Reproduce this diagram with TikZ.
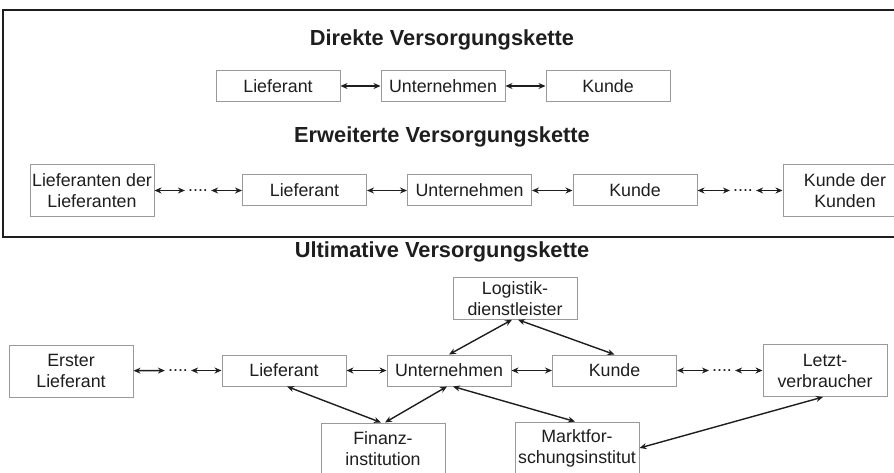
\documentclass[tikz,border=0pt]{standalone}
\usepackage{fontspec}
\setmainfont{Liberation Sans}
\usetikzlibrary{arrows.meta}
\definecolor{boxgray}{HTML}{9A9A9A}
\definecolor{ink}{HTML}{1E1E1E}
\begin{document}
\begin{tikzpicture}[x=1pt,y=-1pt,
  box/.style={draw=boxgray, line width=1pt, minimum width=124pt, minimum height=31pt,
    inner sep=2pt, align=center, text=ink, font=\fontsize{17.8}{21}\selectfont},
  tallbox/.style={box, minimum height=52pt},
  title/.style={text=ink, font=\fontsize{21.8}{26}\selectfont\bfseries},
  dotsnode/.style={inner xsep=3pt, inner ysep=0pt, text=ink, font=\fontsize{17.8}{21}\selectfont},
  link/.style={draw=ink, line width=1.4pt, {Stealth[length=7pt,width=6pt]}-{Stealth[length=7pt,width=6pt]}}
]
\useasboundingbox (0,0) rectangle (894,473);
\fill[white] (0,0) rectangle (894,473);

% frame
\draw[line width=2pt, ink] (3,10) rectangle (905,237);

% --- Direkte Versorgungskette
\node[title] (t1) at (442,40) {Direkte Versorgungskette};
\node[box] (a1) at (278,86) {Lieferant};
\node[box] (a2) at (443,86) {Unternehmen};
\node[box] (a3) at (608,86) {Kunde};
\draw[link] (a1) -- (a2);
\draw[link] (a2) -- (a3);

% --- Erweiterte Versorgungskette
\node[title] (t2) at (442,137) {Erweiterte Versorgungskette};
\node[tallbox] (b0) at (92,190.5) {Lieferanten der\\Lieferanten};
\node[box] (b1) at (304.5,190.5) {Lieferant};
\node[box] (b2) at (469.5,190.5) {Unternehmen};
\node[box] (b3) at (635,190.5) {Kunde};
\node[tallbox] (b4) at (845,190.5) {Kunde der\\Kunden};
\node[dotsnode] (bd1) at (198,190.5) {....};
\node[dotsnode] (bd2) at (743,190.5) {....};
\draw[link] (b0) -- (bd1);
\draw[link] (bd1) -- (b1);
\draw[link] (b1) -- (b2);
\draw[link] (b2) -- (b3);
\draw[link] (b3) -- (bd2);
\draw[link] (bd2) -- (b4);

% --- Ultimative Versorgungskette
\node[title] (t3) at (442,252) {Ultimative Versorgungskette};
\node[box, minimum height=41.5pt] (logi) at (515,298.5) {Logistik-\\dienstleister};
\node[tallbox] (c0) at (71,371) {Erster\\Lieferant};
\node[box] (c1) at (284,370.5) {Lieferant};
\node[box] (c2) at (449,370.5) {Unternehmen};
\node[box] (c3) at (614.5,370.5) {Kunde};
\node[tallbox] (c4) at (825,370.5) {Letzt-\\verbraucher};
\node[tallbox] (fin) at (383,449) {Finanz-\\institution};
\node[tallbox] (mkt) at (577,448) {Marktfor-\\schungsinstitut};
\node[dotsnode] (cd1) at (178,370.5) {....};
\node[dotsnode] (cd2) at (722,370.5) {....};
\draw[link] (c0) -- (cd1);
\draw[link] (cd1) -- (c1);
\draw[link] (c1) -- (c2);
\draw[link] (c2) -- (c3);
\draw[link] (c3) -- (cd2);
\draw[link] (cd2) -- (c4);
\draw[link] ([xshift=-3pt]logi.south) -- (c2.north);
\draw[link] ([xshift=3pt]logi.south) -- (c3.north);
\draw[link] ([xshift=3pt]c1.south) -- ([xshift=-2pt]fin.north);
\draw[link] ([xshift=-2pt]c2.south) -- ([xshift=2pt]fin.north);
\draw[link] ([xshift=4pt]c2.south) -- ([xshift=-2pt]mkt.north);
\draw[link] (mkt.east) -- ([xshift=-2pt]c4.south);
\end{tikzpicture}
\end{document}
